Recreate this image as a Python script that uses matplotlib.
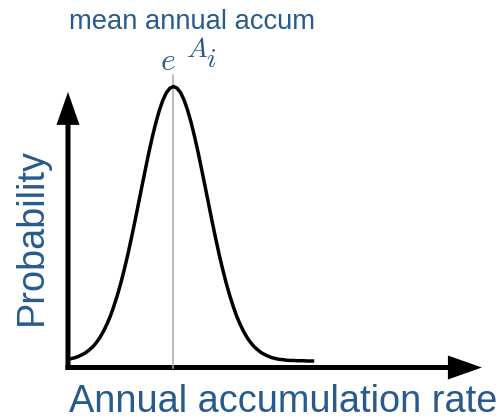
import numpy as np
import matplotlib
matplotlib.use('Agg')
import matplotlib.pyplot as plt

plt.rcParams['font.family'] = ['Liberation Sans', 'DejaVu Sans']
plt.rcParams['mathtext.fontset'] = 'cm'

# accumulation rate grid (arbitrary units) and relative probability
rate = np.linspace(0, 7, 71)
density = [0.006, 0.009, 0.012, 0.017, 0.023, 0.030, 0.040, 0.051, 0.066, 0.084,
           0.106, 0.132, 0.162, 0.198, 0.238, 0.283, 0.333, 0.387, 0.446, 0.507,
           0.571, 0.635, 0.698, 0.760, 0.817, 0.869, 0.914, 0.951, 0.978, 0.994,
           1.000,
           0.994, 0.978, 0.951, 0.914, 0.869, 0.817, 0.760, 0.698, 0.635, 0.571,
           0.507, 0.446, 0.387, 0.333, 0.283, 0.238, 0.198, 0.162, 0.132, 0.106,
           0.084, 0.066, 0.051, 0.040, 0.030, 0.023, 0.017, 0.012, 0.009, 0.006,
           0.005, 0.003, 0.002, 0.002, 0.001, 0.001, 0.001, 0.000, 0.000, 0.000]
mean_rate = 3.0

blue = '#285a8c'

fig = plt.figure(figsize=(5.04, 4.19), dpi=100)
ax = fig.add_axes([0, 0, 1, 1])
ax.set_xlim(-1.933, 12.397)
ax.set_ylim(-0.2113, 1.3151)
ax.axis('off')

# hand-drawn style axes with arrow heads
y0 = -0.0237
ax.arrow(-0.071, y0, 11.84, 0, width=0.0182, head_width=0.0874, head_length=0.967,
         length_includes_head=True, color='black', lw=0)
ax.arrow(0, -0.0328, 0, 1.013, width=0.142, head_width=0.654, head_length=0.120,
         length_includes_head=True, color='black', lw=0)

ax.plot([mean_rate, mean_rate], [y0, 1.042], color='#aaaaaa', lw=1.1, zorder=1)
ax.plot(rate, density, color='black', lw=2.5, solid_capstyle='butt', zorder=2)

ax.text(0.137, 0.9296, 'mean annual accum', transform=ax.transAxes, fontsize=19.7,
        color=blue, ha='left', va='baseline')

# e^{A_i}, with the exponent and its index set at the same size
ax.text(160.5 / 504, 1 - 70 / 419, r'$e$', transform=ax.transAxes, fontsize=23,
        color=blue, ha='left', va='baseline')
ax.text(185.5 / 504, 1 - 56.7 / 419, r'$A$', transform=ax.transAxes, fontsize=20,
        color=blue, ha='left', va='baseline')
ax.text(206 / 504, 1 - 66.7 / 419, r'$i$', transform=ax.transAxes, fontsize=20,
        color=blue, ha='left', va='baseline')

ax.text(0.137, 0.0174, 'Annual accumulation rate', transform=ax.transAxes,
        fontsize=27.3, color=blue, ha='left', va='baseline')
ax.text(41.7 / 504, 1 - 236.5 / 419, 'Probability', transform=ax.transAxes,
        fontsize=27.3, color=blue, rotation=90, rotation_mode='anchor',
        ha='center', va='baseline')

fig.savefig('out.png', dpi=100)
